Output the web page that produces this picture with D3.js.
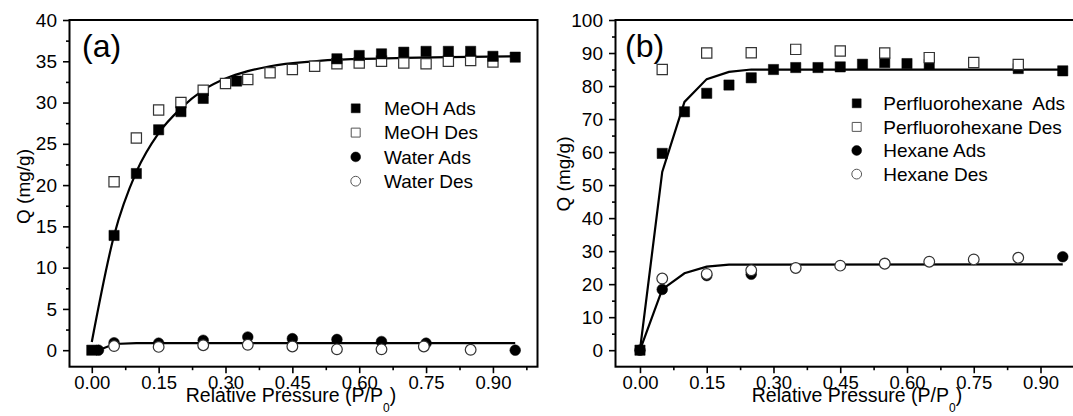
<!DOCTYPE html>
<html>
<head>
<meta charset="utf-8">
<script src="https://cdn.jsdelivr.net/npm/d3@7"></script>
<style>
  body { margin: 0; background: #fff; }
  svg { display: block; font-family: Arial, "Liberation Sans", sans-serif; }
</style>
</head>
<body>
<svg id="chart" width="1073" height="416"></svg>
<script>
// ---- panel (a): MeOH / water ----
var meohAdsX = [0, 0.05, 0.10, 0.15, 0.20, 0.25, 0.325, 0.55, 0.60, 0.65, 0.70, 0.75, 0.80, 0.85, 0.90, 0.95];
var meohAdsY = [0, 13.9, 21.4, 26.7, 28.9, 30.5, 32.6, 35.3, 35.7, 35.9, 36.1, 36.2, 36.2, 36.2, 35.6, 35.5];
var meohDesX = [0.05, 0.10, 0.15, 0.20, 0.25, 0.30, 0.35, 0.40, 0.45, 0.50, 0.55, 0.60, 0.65, 0.70, 0.75, 0.80, 0.85, 0.90];
var meohDesY = [20.4, 25.7, 29.1, 30.0, 31.5, 32.3, 32.8, 33.6, 34.0, 34.4, 34.7, 34.8, 35.0, 34.8, 34.7, 35.0, 35.1, 34.9];
var waterAdsX = [0.015, 0.05, 0.15, 0.25, 0.35, 0.45, 0.55, 0.65, 0.75, 0.95];
var waterAdsY = [0, 0.9, 0.85, 1.2, 1.6, 1.4, 1.3, 1.05, 0.85, 0];
var waterDesX = [0.05, 0.15, 0.25, 0.35, 0.45, 0.55, 0.65, 0.745, 0.85];
var waterDesY = [0.5, 0.4, 0.6, 0.65, 0.45, 0.1, 0.1, 0.45, 0.05];
var meohFitX = [0, 0.05, 0.10, 0.15, 0.20, 0.25, 0.30, 0.35, 0.40, 0.50, 0.55, 0.70, 0.80, 0.95];
var meohFitY = [1.0, 13.9, 21.6, 26.3, 29.3, 31.5, 32.9, 33.8, 34.4, 35.0, 35.2, 35.4, 35.5, 35.6];
var waterFitX = [0.015, 0.05, 0.10, 0.95];
var waterFitY = [0, 0.75, 0.85, 0.85];

// ---- panel (b): perfluorohexane / hexane ----
var pfAdsX = [0, 0.05, 0.10, 0.15, 0.20, 0.25, 0.30, 0.35, 0.40, 0.45, 0.50, 0.55, 0.60, 0.65, 0.85, 0.95];
var pfAdsY = [0, 59.6, 72.2, 77.8, 80.3, 82.5, 85.0, 85.6, 85.6, 85.8, 86.6, 87.1, 86.8, 86.6, 85.3, 84.6];
var pfDesX = [0.05, 0.15, 0.25, 0.35, 0.45, 0.55, 0.65, 0.75, 0.85];
var pfDesY = [85.0, 90.0, 90.1, 91.1, 90.6, 90.0, 88.6, 87.1, 86.5];
var hexAdsX = [0, 0.05, 0.15, 0.25, 0.55, 0.95];
var hexAdsY = [0, 18.4, 22.6, 23.0, 26.3, 28.3];
var hexDesX = [0.05, 0.15, 0.25, 0.35, 0.45, 0.55, 0.65, 0.75, 0.85];
var hexDesY = [21.7, 23.1, 24.2, 24.9, 25.6, 26.2, 26.8, 27.5, 28.0];
var pfFitX = [0, 0.05, 0.10, 0.15, 0.20, 0.25, 0.95];
var pfFitY = [0, 54, 75.2, 82.1, 84.3, 85, 85];
var hexFitX = [0, 0.05, 0.10, 0.15, 0.20, 0.95];
var hexFitY = [0, 18.4, 23.3, 25.3, 25.9, 26];

// ---- ticks ----
var xTicks = [0, 0.15, 0.30, 0.45, 0.60, 0.75, 0.90];
var xMinorTicks = [0.075, 0.225, 0.375, 0.525, 0.675, 0.825, 0.975];
var yTicksA = [0, 5, 10, 15, 20, 25, 30, 35, 40];
var yMinorA = [2.5, 7.5, 12.5, 17.5, 22.5, 27.5, 32.5, 37.5];
var yTicksB = [0, 10, 20, 30, 40, 50, 60, 70, 80, 90, 100];
var yMinorB = [5, 15, 25, 35, 45, 55, 65, 75, 85, 95];

var svg = d3.select("#chart");
var zip = function(xs, ys) { return xs.map(function(v, i) { return [v, ys[i]]; }); };

var drawPanel = function(cfg) {
  var top = 20, bottom = 366.7;
  var x = d3.scaleLinear().domain(cfg.xDomain).range(cfg.xRange);
  var y = d3.scaleLinear().domain(cfg.yDomain).range([bottom, top]);
  var g = svg.append("g");

  var styleAxis = function(sel, fs) {
    sel.select(".domain").remove();
    sel.selectAll("line").attr("stroke", "#000").attr("stroke-width", 1.6);
    sel.selectAll("text").attr("fill", "#000").attr("font-size", fs).attr("font-family", "Arial, 'Liberation Sans', sans-serif");
  };

  g.append("g").attr("transform", "translate(0," + bottom + ")")
    .call(d3.axisBottom(x).tickValues(xMinorTicks).tickSize(3.5).tickFormat(""))
    .call(styleAxis, 18);
  g.append("g").attr("class", "x-major").attr("transform", "translate(0," + bottom + ")")
    .call(d3.axisBottom(x).tickValues(xTicks).tickSize(6.5).tickPadding(3).tickFormat(d3.format(".2f")))
    .call(styleAxis, 18.5);
  g.append("g").attr("transform", "translate(" + cfg.xRange[0] + ",0)")
    .call(d3.axisLeft(y).tickValues(cfg.yMinor).tickSize(3.5).tickFormat(""))
    .call(styleAxis, 19);
  g.append("g").attr("transform", "translate(" + cfg.xRange[0] + ",0)")
    .call(d3.axisLeft(y).tickValues(cfg.yTicks).tickSize(6.5).tickPadding(6).tickFormat(d3.format("d")))
    .call(styleAxis, 19);

  g.append("rect")
    .attr("x", cfg.xRange[0]).attr("y", top)
    .attr("width", cfg.xRange[1] - cfg.xRange[0]).attr("height", bottom - top)
    .attr("fill", "none").attr("stroke", "#000").attr("stroke-width", 2);

  var plot = g.append("g");

  cfg.fits.forEach(function(f) {
    var line = d3.line().x(function(d) { return x(d[0]); }).y(function(d) { return y(d[1]); }).curve(f.curve);
    plot.append("path")
      .attr("d", line(f.points))
      .attr("fill", "none").attr("stroke", "#000").attr("stroke-width", 2.2);
  });

  cfg.series.forEach(function(s) {
    var sym = d3.symbol().type(s.shape === "square" ? d3.symbolSquare : d3.symbolCircle).size(s.shape === "square" ? 105 : 90);
    plot.append("g").selectAll("path").data(s.points).enter().append("path")
      .attr("transform", function(d) { return "translate(" + x(d[0]) + "," + y(d[1]) + ")"; })
      .attr("d", sym())
      .attr("fill", s.filled ? "#000" : "#fff")
      .attr("stroke", s.filled ? "#000" : "#333")
      .attr("stroke-width", s.filled ? 0.5 : 1.2);
  });

  // legend
  var leg = g.append("g");
  cfg.legend.forEach(function(s, i) {
    var ly = cfg.legendY + i * cfg.legendStep;
    var sym = d3.symbol().type(s.shape === "square" ? d3.symbolSquare : d3.symbolCircle).size(s.shape === "square" ? 80 : 75);
    leg.append("path")
      .attr("transform", "translate(" + cfg.legendMarkX + "," + ly + ")")
      .attr("d", sym())
      .attr("fill", s.filled ? "#000" : "#fff")
      .attr("stroke", s.filled ? "#000" : "#555")
      .attr("stroke-width", s.filled ? 0.5 : 1);
    leg.append("text")
      .attr("x", cfg.legendTextX).attr("y", ly).attr("dy", "0.35em")
      .attr("font-size", 19).attr("fill", "#000")
      .attr("xml:space", "preserve")
      .text(s.label);
  });

  g.append("text")
    .attr("x", cfg.tagX).attr("y", 56.5)
    .attr("font-size", 32).attr("fill", "#000")
    .text(cfg.tag);

  var xt = g.append("text")
    .attr("x", cfg.xTitleX).attr("y", 402)
    .attr("text-anchor", "middle").attr("font-size", 19.5).attr("fill", "#000");
  xt.append("tspan").text("Relative Pressure (P/P");
  xt.append("tspan").attr("font-size", 12).attr("dy", 10).text("0");
  xt.append("tspan").attr("dy", -10).text(")");

  g.append("text")
    .attr("transform", "translate(" + cfg.yTitleX + "," + cfg.yTitleY + ") rotate(-90)")
    .attr("text-anchor", "middle").attr("font-size", 19).attr("fill", "#000")
    .text("Q (mg/g)");
};

drawPanel({
  xDomain: [-0.05, 1.0], xRange: [69.5, 537.5],
  yDomain: [-2, 40], yTicks: yTicksA, yMinor: yMinorA,
  fits: [
    { points: zip(meohFitX, meohFitY), curve: d3.curveMonotoneX },
    { points: zip(waterFitX, waterFitY), curve: d3.curveLinear }
  ],
  series: [
    { shape: "square", filled: false, points: zip(meohDesX, meohDesY) },
    { shape: "square", filled: true, points: zip(meohAdsX, meohAdsY) },
    { shape: "circle", filled: true, points: zip(waterAdsX, waterAdsY) },
    { shape: "circle", filled: false, points: zip(waterDesX, waterDesY) }
  ],
  legend: [
    { shape: "square", filled: true, label: "MeOH Ads" },
    { shape: "square", filled: false, label: "MeOH Des" },
    { shape: "circle", filled: true, label: "Water Ads" },
    { shape: "circle", filled: false, label: "Water Des" }
  ],
  legendY: 108.3, legendStep: 24.3, legendMarkX: 355.7, legendTextX: 384,
  tag: "(a)", tagX: 82,
  xTitleX: 291, yTitleX: 30, yTitleY: 186.5
});

drawPanel({
  xDomain: [-0.055, 1.0], xRange: [615.5, 1085],
  yDomain: [-5, 100], yTicks: yTicksB, yMinor: yMinorB,
  fits: [
    { points: zip(pfFitX, pfFitY), curve: d3.curveLinear },
    { points: zip(hexFitX, hexFitY), curve: d3.curveLinear }
  ],
  series: [
    { shape: "square", filled: true, points: zip(pfAdsX, pfAdsY) },
    { shape: "square", filled: false, points: zip(pfDesX, pfDesY) },
    { shape: "circle", filled: true, points: zip(hexAdsX, hexAdsY) },
    { shape: "circle", filled: false, points: zip(hexDesX, hexDesY) }
  ],
  legend: [
    { shape: "square", filled: true, label: "Perfluorohexane  Ads" },
    { shape: "square", filled: false, label: "Perfluorohexane Des" },
    { shape: "circle", filled: true, label: "Hexane Ads" },
    { shape: "circle", filled: false, label: "Hexane Des" }
  ],
  legendY: 103.3, legendStep: 23.6, legendMarkX: 856.7, legendTextX: 883.3,
  tag: "(b)", tagX: 625,
  xTitleX: 857, yTitleX: 570, yTitleY: 174
});
</script>
</body>
</html>
